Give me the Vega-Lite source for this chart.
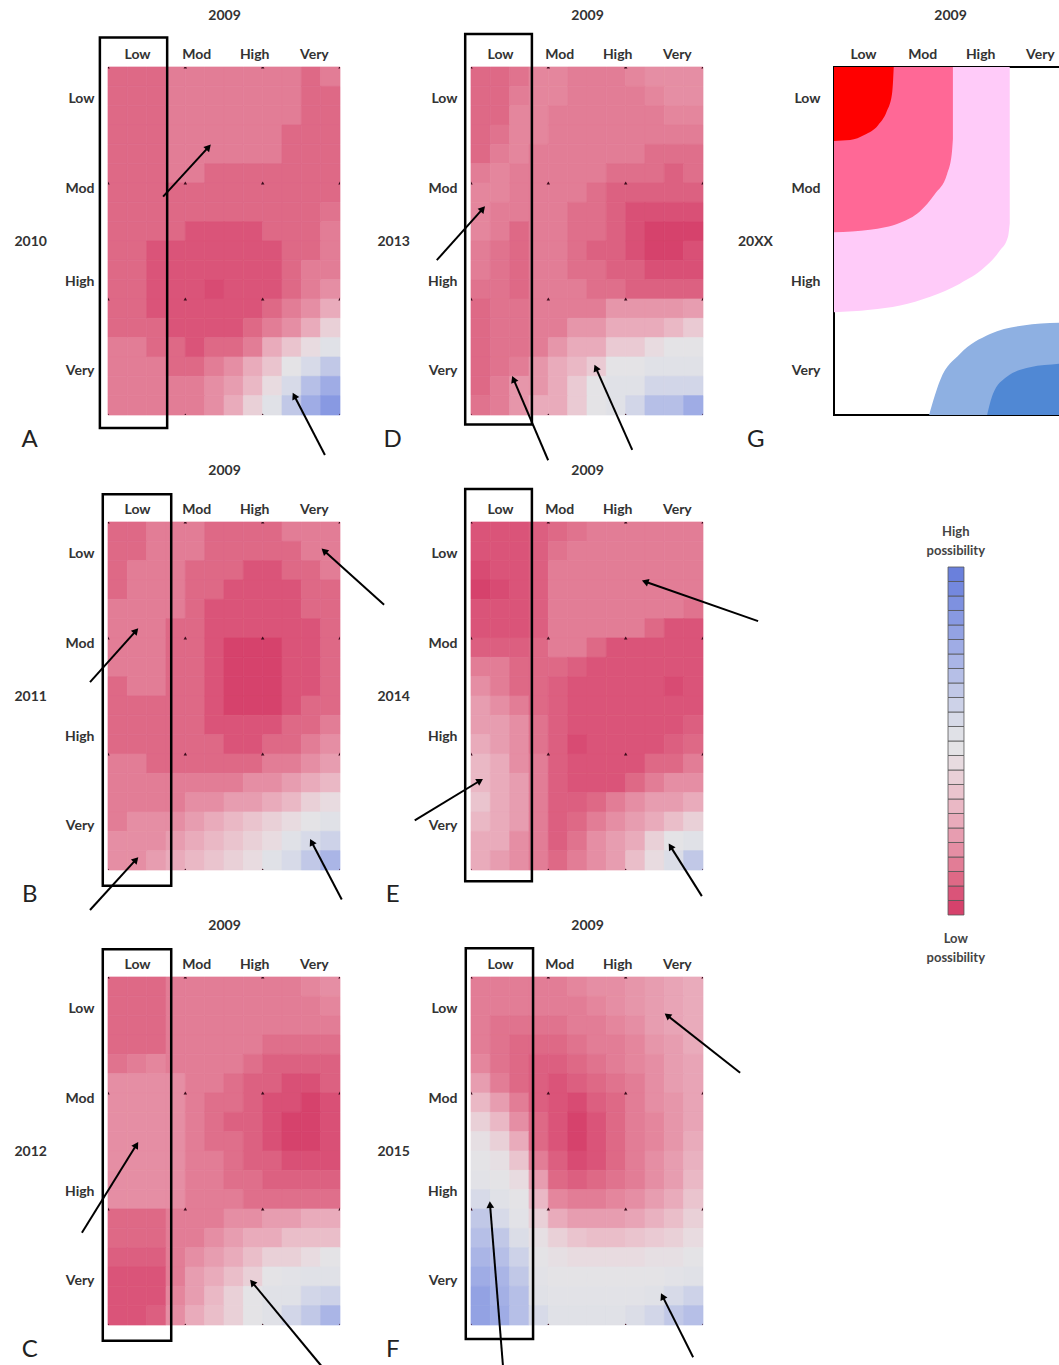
{
"$schema":"https://vega.github.io/schema/vega-lite/v6.json",
"autosize":{"type":"pad"},
"padding":{"left":13,"top":7,"right":0,"bottom":0},
"background":"white",
"config":{
 "font":"Lato",
 "axis":{"labelFont":"Lato","labelFontSize":14,"labelFontWeight":"bold","labelColor":"#333","titleFont":"Lato","titleFontSize":14,"titleFontWeight":"bold","titleColor":"#333","grid":false,"ticks":false,"domain":false,"labelFlush":false,"labelOverlap":false},
 "title":{"font":"Lato","fontSize":14,"fontWeight":"bold","color":"#333"}
},
"datasets":{
 "grid":[
  {"p":"A","r":0,"c00":2,"c01":2,"c02":2,"c03":3,"c04":3,"c05":3,"c06":3,"c07":3,"c08":3,"c09":3,"c10":2,"c11":3},
  {"p":"A","r":1,"c00":2,"c01":2,"c02":2,"c03":3,"c04":3,"c05":3,"c06":3,"c07":3,"c08":3,"c09":3,"c10":2,"c11":2},
  {"p":"A","r":2,"c00":2,"c01":2,"c02":2,"c03":3,"c04":3,"c05":3,"c06":3,"c07":3,"c08":3,"c09":3,"c10":2,"c11":2},
  {"p":"A","r":3,"c00":2,"c01":2,"c02":2,"c03":3,"c04":3,"c05":3,"c06":3,"c07":3,"c08":3,"c09":2,"c10":2,"c11":2},
  {"p":"A","r":4,"c00":2,"c01":2,"c02":2,"c03":3,"c04":3,"c05":3,"c06":3,"c07":3,"c08":3,"c09":2,"c10":2,"c11":2},
  {"p":"A","r":5,"c00":2,"c01":2,"c02":2,"c03":3,"c04":3,"c05":2,"c06":2,"c07":2,"c08":2,"c09":2,"c10":2,"c11":2},
  {"p":"A","r":6,"c00":2,"c01":2,"c02":2,"c03":2,"c04":2,"c05":2,"c06":2,"c07":2,"c08":2,"c09":2,"c10":2,"c11":2},
  {"p":"A","r":7,"c00":2,"c01":2,"c02":2,"c03":2,"c04":2,"c05":2,"c06":2,"c07":2,"c08":2,"c09":2,"c10":2,"c11":2.5},
  {"p":"A","r":8,"c00":2,"c01":2,"c02":2,"c03":2,"c04":1,"c05":1,"c06":1,"c07":1,"c08":2,"c09":2,"c10":2,"c11":3},
  {"p":"A","r":9,"c00":2,"c01":2,"c02":1,"c03":1,"c04":1,"c05":1,"c06":1,"c07":1,"c08":1,"c09":2,"c10":2,"c11":3},
  {"p":"A","r":10,"c00":2,"c01":2,"c02":1,"c03":1,"c04":1,"c05":1,"c06":1,"c07":1,"c08":1,"c09":2,"c10":3,"c11":3},
  {"p":"A","r":11,"c00":2,"c01":2,"c02":1,"c03":1,"c04":1,"c05":0.5,"c06":1,"c07":1,"c08":1,"c09":2,"c10":3,"c11":4},
  {"p":"A","r":12,"c00":2,"c01":2,"c02":1,"c03":1,"c04":1,"c05":1,"c06":1,"c07":1,"c08":2,"c09":3,"c10":4,"c11":6},
  {"p":"A","r":13,"c00":2,"c01":2,"c02":2,"c03":1,"c04":1,"c05":1,"c06":1,"c07":2,"c08":3,"c09":4,"c10":6,"c11":9},
  {"p":"A","r":14,"c00":3,"c01":3,"c02":2,"c03":2,"c04":1,"c05":2,"c06":2,"c07":3,"c08":6,"c09":8,"c10":10,"c11":12},
  {"p":"A","r":15,"c00":3,"c01":3,"c02":3,"c03":2,"c04":2,"c05":3,"c06":4,"c07":6,"c08":8,"c09":11,"c10":13,"c11":15},
  {"p":"A","r":16,"c00":3,"c01":3,"c02":3,"c03":3,"c04":3,"c05":4,"c06":5,"c07":7,"c08":10,"c09":13,"c10":16,"c11":18},
  {"p":"A","r":17,"c00":3,"c01":3,"c02":3,"c03":3,"c04":3,"c05":4,"c06":6,"c07":9,"c08":12,"c09":15,"c10":18,"c11":20},
  {"p":"B","r":0,"c00":2,"c01":2,"c02":3,"c03":3,"c04":3,"c05":2,"c06":2,"c07":2,"c08":2,"c09":3,"c10":3,"c11":3},
  {"p":"B","r":1,"c00":2,"c01":2,"c02":3,"c03":3,"c04":3,"c05":2,"c06":2,"c07":2,"c08":2,"c09":2,"c10":3,"c11":3},
  {"p":"B","r":2,"c00":2,"c01":3,"c02":3,"c03":3,"c04":2,"c05":2,"c06":2,"c07":1,"c08":1,"c09":2,"c10":2,"c11":3},
  {"p":"B","r":3,"c00":2,"c01":3,"c02":3,"c03":3,"c04":2,"c05":2,"c06":1,"c07":1,"c08":1,"c09":1,"c10":2,"c11":2},
  {"p":"B","r":4,"c00":3,"c01":3,"c02":3,"c03":3,"c04":2,"c05":1,"c06":1,"c07":1,"c08":1,"c09":1,"c10":2,"c11":2},
  {"p":"B","r":5,"c00":3,"c01":3,"c02":3,"c03":2,"c04":2,"c05":1,"c06":1,"c07":1,"c08":1,"c09":1,"c10":1,"c11":2},
  {"p":"B","r":6,"c00":3,"c01":3,"c02":3,"c03":2,"c04":2,"c05":1,"c06":0,"c07":0,"c08":0,"c09":1,"c10":1,"c11":2},
  {"p":"B","r":7,"c00":3,"c01":3,"c02":3,"c03":2,"c04":2,"c05":1,"c06":0,"c07":0,"c08":0,"c09":1,"c10":1,"c11":2},
  {"p":"B","r":8,"c00":2,"c01":3,"c02":3,"c03":2,"c04":2,"c05":1,"c06":0,"c07":0,"c08":0,"c09":1,"c10":1,"c11":2},
  {"p":"B","r":9,"c00":2,"c01":2,"c02":2,"c03":2,"c04":2,"c05":1,"c06":0,"c07":0,"c08":0,"c09":1,"c10":2,"c11":2},
  {"p":"B","r":10,"c00":2,"c01":2,"c02":2,"c03":2,"c04":2,"c05":1,"c06":1,"c07":1,"c08":1,"c09":2,"c10":2,"c11":3},
  {"p":"B","r":11,"c00":2,"c01":2,"c02":2,"c03":2,"c04":2,"c05":2,"c06":1,"c07":1,"c08":2,"c09":2,"c10":3,"c11":4},
  {"p":"B","r":12,"c00":3,"c01":3,"c02":2,"c03":2,"c04":2,"c05":2,"c06":2,"c07":2,"c08":3,"c09":3,"c10":4,"c11":5},
  {"p":"B","r":13,"c00":3,"c01":3,"c02":3,"c03":3,"c04":3,"c05":3,"c06":3,"c07":4,"c08":4,"c09":5,"c10":6,"c11":7},
  {"p":"B","r":14,"c00":3,"c01":3,"c02":3,"c03":3,"c04":4,"c05":4,"c06":5,"c07":5,"c08":6,"c09":7,"c10":9,"c11":10},
  {"p":"B","r":15,"c00":3,"c01":4,"c02":4,"c03":4,"c04":5,"c05":6,"c06":7,"c07":8,"c08":9,"c09":10,"c10":11,"c11":12},
  {"p":"B","r":16,"c00":4,"c01":4,"c02":4,"c03":5,"c04":6,"c05":7,"c06":8,"c07":9,"c08":10,"c09":12,"c10":13,"c11":14},
  {"p":"B","r":17,"c00":4,"c01":4,"c02":5,"c03":6,"c04":7,"c05":8,"c06":9,"c07":10,"c08":12,"c09":13,"c10":15,"c11":17},
  {"p":"C","r":0,"c00":2,"c01":2,"c02":2,"c03":3,"c04":3,"c05":3,"c06":3,"c07":3,"c08":3,"c09":3,"c10":3.5,"c11":4},
  {"p":"C","r":1,"c00":2,"c01":2,"c02":2,"c03":3,"c04":3,"c05":3,"c06":3,"c07":3,"c08":3,"c09":3,"c10":3,"c11":3.5},
  {"p":"C","r":2,"c00":2,"c01":2,"c02":2,"c03":3,"c04":3,"c05":3,"c06":3,"c07":3,"c08":3,"c09":3,"c10":3,"c11":3},
  {"p":"C","r":3,"c00":2,"c01":2,"c02":2,"c03":3,"c04":3,"c05":3,"c06":3,"c07":3,"c08":2.3,"c09":2.3,"c10":2.3,"c11":2.3},
  {"p":"C","r":4,"c00":2.5,"c01":3,"c02":3.5,"c03":3,"c04":3,"c05":3,"c06":3,"c07":2.3,"c08":1.6,"c09":1.6,"c10":1.6,"c11":1.6},
  {"p":"C","r":5,"c00":4,"c01":4,"c02":4,"c03":4,"c04":3,"c05":3,"c06":2.3,"c07":1.6,"c08":1.6,"c09":0.8,"c10":0.8,"c11":1.6},
  {"p":"C","r":6,"c00":4,"c01":4,"c02":4,"c03":4,"c04":3,"c05":2.3,"c06":2.3,"c07":1.6,"c08":0.8,"c09":0.8,"c10":0,"c11":0.8},
  {"p":"C","r":7,"c00":4,"c01":4,"c02":4,"c03":4,"c04":3,"c05":2.3,"c06":1.6,"c07":1.6,"c08":0.8,"c09":0,"c10":0,"c11":0.8},
  {"p":"C","r":8,"c00":4,"c01":4,"c02":4,"c03":4,"c04":3,"c05":2.3,"c06":2.3,"c07":1.6,"c08":0.8,"c09":0,"c10":0,"c11":0.8},
  {"p":"C","r":9,"c00":4,"c01":4,"c02":4,"c03":4,"c04":3,"c05":3,"c06":2.3,"c07":1.6,"c08":1.6,"c09":0.8,"c10":0.8,"c11":0.8},
  {"p":"C","r":10,"c00":4,"c01":4,"c02":4,"c03":4,"c04":3,"c05":3,"c06":2.3,"c07":2.3,"c08":1.6,"c09":1.6,"c10":1.6,"c11":1.6},
  {"p":"C","r":11,"c00":4,"c01":4,"c02":4,"c03":4,"c04":3,"c05":3,"c06":3,"c07":2.3,"c08":2.3,"c09":2.3,"c10":2.3,"c11":2.3},
  {"p":"C","r":12,"c00":2,"c01":2,"c02":2,"c03":3,"c04":3,"c05":3,"c06":4,"c07":4,"c08":5,"c09":5,"c10":6,"c11":6},
  {"p":"C","r":13,"c00":2,"c01":2,"c02":2,"c03":3,"c04":3,"c05":4,"c06":5,"c07":6,"c08":6,"c09":7.5,"c10":7.5,"c11":7.5},
  {"p":"C","r":14,"c00":1.5,"c01":1.5,"c02":1.5,"c03":3,"c04":4,"c05":5,"c06":6,"c07":7.5,"c08":9,"c09":9,"c10":10,"c11":11},
  {"p":"C","r":15,"c00":1,"c01":1,"c02":1,"c03":3,"c04":5,"c05":6,"c06":7.5,"c07":9,"c08":11,"c09":11.5,"c10":12,"c11":12},
  {"p":"C","r":16,"c00":1,"c01":1,"c02":1,"c03":3.5,"c04":5,"c05":7,"c06":9,"c07":11,"c08":12,"c09":12,"c10":13.5,"c11":14},
  {"p":"C","r":17,"c00":1,"c01":1,"c02":1.5,"c03":4,"c04":6,"c05":7.5,"c06":9,"c07":11,"c08":12,"c09":13.5,"c10":15,"c11":17},
  {"p":"D","r":0,"c00":2,"c01":2,"c02":2.5,"c03":3.5,"c04":3.5,"c05":3,"c06":3,"c07":3,"c08":3.5,"c09":4,"c10":4,"c11":4},
  {"p":"D","r":1,"c00":2,"c01":2,"c02":3,"c03":3.5,"c04":3.5,"c05":3,"c06":3,"c07":3,"c08":3,"c09":3.5,"c10":4,"c11":4},
  {"p":"D","r":2,"c00":2,"c01":2,"c02":3.5,"c03":3.5,"c04":3,"c05":3,"c06":3,"c07":3,"c08":3,"c09":3,"c10":3.5,"c11":3.5},
  {"p":"D","r":3,"c00":2,"c01":2.5,"c02":3.5,"c03":3.5,"c04":3,"c05":3,"c06":3,"c07":3,"c08":3,"c09":3,"c10":3,"c11":3},
  {"p":"D","r":4,"c00":2,"c01":3,"c02":3.5,"c03":3,"c04":3,"c05":3,"c06":3,"c07":3,"c08":3,"c09":2.3,"c10":2.3,"c11":2.3},
  {"p":"D","r":5,"c00":3,"c01":3.5,"c02":3,"c03":3,"c04":3,"c05":3,"c06":3,"c07":2.3,"c08":2.3,"c09":2.3,"c10":1.6,"c11":2.3},
  {"p":"D","r":6,"c00":3.5,"c01":3.5,"c02":3,"c03":3,"c04":3,"c05":3,"c06":2.3,"c07":1.6,"c08":1.6,"c09":1.6,"c10":1.6,"c11":1.6},
  {"p":"D","r":7,"c00":3.5,"c01":3,"c02":3,"c03":3,"c04":3,"c05":2.3,"c06":2.3,"c07":1.6,"c08":0.8,"c09":0.8,"c10":0.8,"c11":0.8},
  {"p":"D","r":8,"c00":3.5,"c01":3,"c02":2,"c03":3,"c04":3,"c05":2.3,"c06":2.3,"c07":1.6,"c08":0.8,"c09":0,"c10":0,"c11":0},
  {"p":"D","r":9,"c00":3,"c01":2.5,"c02":2,"c03":3,"c04":3,"c05":2.3,"c06":1.6,"c07":1.6,"c08":0.8,"c09":0,"c10":0,"c11":0.8},
  {"p":"D","r":10,"c00":3,"c01":2.5,"c02":2,"c03":3,"c04":3,"c05":2.3,"c06":2.3,"c07":1.6,"c08":1.6,"c09":0.8,"c10":0.8,"c11":0.8},
  {"p":"D","r":11,"c00":2.5,"c01":2.5,"c02":2,"c03":3,"c04":3,"c05":3,"c06":2.3,"c07":2.3,"c08":1.6,"c09":1.6,"c10":1.6,"c11":1.6},
  {"p":"D","r":12,"c00":2,"c01":2.5,"c02":2.5,"c03":3,"c04":3,"c05":3,"c06":3,"c07":4.5,"c08":4.5,"c09":4.5,"c10":4.5,"c11":5},
  {"p":"D","r":13,"c00":2,"c01":2.5,"c02":2.5,"c03":3,"c04":3,"c05":4.5,"c06":4.5,"c07":6,"c08":6,"c09":6,"c10":7,"c11":8.5},
  {"p":"D","r":14,"c00":2,"c01":2.5,"c02":2.5,"c03":3,"c04":4.5,"c05":6,"c06":6,"c07":8.5,"c08":8.5,"c09":10,"c10":11,"c11":11},
  {"p":"D","r":15,"c00":2,"c01":2.5,"c02":3,"c03":4.5,"c04":6,"c05":7,"c06":8.5,"c07":11,"c08":11,"c09":12,"c10":12,"c11":12},
  {"p":"D","r":16,"c00":2,"c01":3,"c02":4.5,"c03":4.5,"c04":6,"c05":8.5,"c06":11,"c07":12,"c08":12,"c09":13.5,"c10":13.5,"c11":13.5},
  {"p":"D","r":17,"c00":2.5,"c01":3,"c02":4.5,"c03":6,"c04":6,"c05":8.5,"c06":11,"c07":12,"c08":13.5,"c09":16,"c10":16,"c11":18},
  {"p":"E","r":0,"c00":1,"c01":1,"c02":1,"c03":1.5,"c04":2,"c05":2.5,"c06":3,"c07":3,"c08":3,"c09":3,"c10":3,"c11":3},
  {"p":"E","r":1,"c00":1,"c01":1,"c02":1,"c03":1.5,"c04":2.5,"c05":3,"c06":3,"c07":3,"c08":3,"c09":3,"c10":3,"c11":3},
  {"p":"E","r":2,"c00":0.5,"c01":1,"c02":1,"c03":1.5,"c04":3,"c05":3,"c06":3,"c07":3,"c08":3,"c09":3,"c10":3,"c11":3},
  {"p":"E","r":3,"c00":0,"c01":0.5,"c02":1,"c03":1.5,"c04":3,"c05":3,"c06":3,"c07":3,"c08":3,"c09":3,"c10":3,"c11":3},
  {"p":"E","r":4,"c00":1,"c01":1,"c02":1,"c03":1.5,"c04":3,"c05":3,"c06":3,"c07":3,"c08":3,"c09":3,"c10":3,"c11":2.5},
  {"p":"E","r":5,"c00":1,"c01":1,"c02":1,"c03":1.5,"c04":3,"c05":3,"c06":3,"c07":3,"c08":3,"c09":2,"c10":1,"c11":1},
  {"p":"E","r":6,"c00":1.5,"c01":1.5,"c02":1.5,"c03":2,"c04":3,"c05":3,"c06":2,"c07":1,"c08":1,"c09":1,"c10":1,"c11":1},
  {"p":"E","r":7,"c00":3,"c01":3,"c02":2,"c03":2,"c04":2,"c05":1.5,"c06":1,"c07":1,"c08":1,"c09":1,"c10":1,"c11":1},
  {"p":"E","r":8,"c00":4,"c01":3,"c02":2,"c03":2,"c04":1.5,"c05":1,"c06":1,"c07":1,"c08":1,"c09":1,"c10":0.5,"c11":1},
  {"p":"E","r":9,"c00":5,"c01":4,"c02":3,"c03":2,"c04":1.5,"c05":1,"c06":1,"c07":1,"c08":1,"c09":1,"c10":1,"c11":1},
  {"p":"E","r":10,"c00":5,"c01":5,"c02":4,"c03":2.5,"c04":1.5,"c05":1,"c06":1,"c07":1,"c08":1,"c09":1,"c10":1,"c11":1.5},
  {"p":"E","r":11,"c00":6,"c01":5,"c02":4,"c03":2.5,"c04":1.5,"c05":0.5,"c06":1,"c07":1,"c08":1,"c09":1,"c10":1.5,"c11":2},
  {"p":"E","r":12,"c00":7,"c01":6,"c02":4,"c03":3,"c04":1.5,"c05":1,"c06":1,"c07":1,"c08":1,"c09":2,"c10":2,"c11":3},
  {"p":"E","r":13,"c00":7,"c01":6,"c02":5,"c03":3,"c04":1.5,"c05":1,"c06":1,"c07":1,"c08":2,"c09":3,"c10":4,"c11":4},
  {"p":"E","r":14,"c00":8,"c01":6,"c02":5,"c03":3,"c04":1.5,"c05":1.5,"c06":2,"c07":3,"c08":4,"c09":5,"c10":5,"c11":6},
  {"p":"E","r":15,"c00":7,"c01":6,"c02":5,"c03":3,"c04":1.5,"c05":2,"c06":3,"c07":4,"c08":5,"c09":6,"c10":7.5,"c11":9},
  {"p":"E","r":16,"c00":6,"c01":6,"c02":4,"c03":3,"c04":1.5,"c05":2.5,"c06":4,"c07":5,"c08":6,"c09":9,"c10":11,"c11":12},
  {"p":"E","r":17,"c00":6,"c01":5,"c02":4,"c03":3,"c04":2,"c05":3,"c06":4,"c07":5,"c08":7.5,"c09":10,"c10":12.5,"c11":15},
  {"p":"F","r":0,"c00":3,"c01":3,"c02":3,"c03":3,"c04":3,"c05":3.5,"c06":4,"c07":4,"c08":4.5,"c09":5,"c10":5.5,"c11":6},
  {"p":"F","r":1,"c00":3,"c01":3,"c02":3,"c03":3,"c04":3,"c05":3,"c06":3.5,"c07":4,"c08":4.5,"c09":5,"c10":5.5,"c11":6},
  {"p":"F","r":2,"c00":3,"c01":2.5,"c02":2.5,"c03":2.5,"c04":2.5,"c05":3,"c06":3,"c07":3.5,"c08":4,"c09":5,"c10":5.5,"c11":6},
  {"p":"F","r":3,"c00":3,"c01":2.5,"c02":2,"c03":2,"c04":2,"c05":2.5,"c06":3,"c07":3,"c08":3.5,"c09":4.5,"c10":5,"c11":6},
  {"p":"F","r":4,"c00":3.5,"c01":2.5,"c02":2,"c03":1.5,"c04":1.5,"c05":2,"c06":2.5,"c07":3,"c08":3.5,"c09":4,"c10":5,"c11":5.5},
  {"p":"F","r":5,"c00":5,"c01":3,"c02":2,"c03":1.5,"c04":1,"c05":1.5,"c06":2,"c07":2.5,"c08":3,"c09":4,"c10":5,"c11":5.5},
  {"p":"F","r":6,"c00":7,"c01":5,"c02":3,"c03":1.5,"c04":1,"c05":0.5,"c06":1.5,"c07":2,"c08":3,"c09":4,"c10":4.5,"c11":5.5},
  {"p":"F","r":7,"c00":9,"c01":7,"c02":4,"c03":2,"c04":1,"c05":0,"c06":1,"c07":2,"c08":3,"c09":3.5,"c10":4.5,"c11":5.5},
  {"p":"F","r":8,"c00":10.5,"c01":9,"c02":6,"c03":2,"c04":1,"c05":0,"c06":1,"c07":2,"c08":3,"c09":3.5,"c10":4.5,"c11":6},
  {"p":"F","r":9,"c00":11,"c01":10.5,"c02":8,"c03":3,"c04":1.5,"c05":0.5,"c06":1,"c07":2,"c08":3,"c09":4,"c10":5,"c11":6.5},
  {"p":"F","r":10,"c00":11.5,"c01":11,"c02":10,"c03":5,"c04":2,"c05":1.5,"c06":2,"c07":2.5,"c08":3,"c09":4,"c10":5,"c11":7},
  {"p":"F","r":11,"c00":13,"c01":12,"c02":11,"c03":7,"c04":3.5,"c05":3,"c06":3,"c07":3.5,"c08":4,"c09":5,"c10":6,"c11":8},
  {"p":"F","r":12,"c00":15,"c01":13,"c02":11.5,"c03":9,"c04":6,"c05":5,"c06":5,"c07":5,"c08":5.5,"c09":6.5,"c10":7.5,"c11":9},
  {"p":"F","r":13,"c00":16,"c01":15,"c02":12.5,"c03":10.5,"c04":9,"c05":8,"c06":7.5,"c07":7.5,"c08":8,"c09":8.5,"c10":9,"c11":10},
  {"p":"F","r":14,"c00":17,"c01":16,"c02":14,"c03":11,"c04":10.5,"c05":10,"c06":10,"c07":10,"c08":10,"c09":10.5,"c10":10.5,"c11":11},
  {"p":"F","r":15,"c00":18,"c01":17,"c02":15,"c03":11.5,"c04":11,"c05":11,"c06":11,"c07":11,"c08":11,"c09":11,"c10":11.5,"c11":12},
  {"p":"F","r":16,"c00":19,"c01":17.5,"c02":16,"c03":12,"c04":11.5,"c05":11.5,"c06":11.5,"c07":11.5,"c08":11.5,"c09":12,"c10":13,"c11":14},
  {"p":"F","r":17,"c00":19,"c01":18,"c02":16,"c03":13,"c04":12,"c05":12,"c06":12,"c07":12,"c08":12.5,"c09":13.5,"c10":15,"c11":16}
 ],
 "pts":[
  {"gx":0,"gy":0},{"gx":1.333,"gy":0},{"gx":2.667,"gy":0},{"gx":4,"gy":0},
  {"gx":0,"gy":1.333},{"gx":1.333,"gy":1.333},{"gx":2.667,"gy":1.333},{"gx":4,"gy":1.333},
  {"gx":0,"gy":2.667},{"gx":1.333,"gy":2.667},{"gx":2.667,"gy":2.667},{"gx":4,"gy":2.667},
  {"gx":0,"gy":4},{"gx":1.333,"gy":4},{"gx":2.667,"gy":4},{"gx":4,"gy":4}
 ],
 "boxes":[
  {"p":"A","x":-0.14,"x2":1.02,"y":-0.34,"y2":4.15},
  {"p":"B","x":-0.09,"x2":1.09,"y":-0.32,"y2":4.18},
  {"p":"C","x":-0.09,"x2":1.09,"y":-0.32,"y2":4.18},
  {"p":"D","x":-0.1,"x2":1.05,"y":-0.38,"y2":4.11},
  {"p":"E","x":-0.1,"x2":1.05,"y":-0.38,"y2":4.13},
  {"p":"F","x":-0.09,"x2":1.07,"y":-0.33,"y2":4.16}
 ],
 "arrows":[
  {"p":"A","x":0.95,"y":1.49,"x2":1.72,"y2":0.93},
  {"p":"A","x":3.74,"y":4.46,"x2":3.22,"y2":3.79},
  {"p":"B","x":-0.31,"y":1.84,"x2":0.47,"y2":1.26},
  {"p":"B","x":-0.31,"y":4.46,"x2":0.47,"y2":3.89},
  {"p":"B","x":4.76,"y":0.95,"x2":3.74,"y2":0.34},
  {"p":"B","x":4.03,"y":4.34,"x2":3.52,"y2":3.69},
  {"p":"C","x":-0.45,"y":2.94,"x2":0.48,"y2":1.94},
  {"p":"C","x":3.74,"y":4.52,"x2":2.5,"y2":3.52},
  {"p":"D","x":-0.59,"y":2.22,"x2":0.19,"y2":1.64},
  {"p":"D","x":1.33,"y":4.52,"x2":0.74,"y2":3.6},
  {"p":"D","x":2.78,"y":4.4,"x2":2.16,"y2":3.47},
  {"p":"E","x":4.95,"y":1.14,"x2":3.02,"y2":0.69},
  {"p":"E","x":-0.97,"y":3.43,"x2":0.14,"y2":2.98},
  {"p":"E","x":3.98,"y":4.3,"x2":3.45,"y2":3.74},
  {"p":"F","x":4.64,"y":1.1,"x2":3.4,"y2":0.45},
  {"p":"F","x":0.55,"y":4.46,"x2":0.33,"y2":2.63},
  {"p":"F","x":3.83,"y":4.37,"x2":3.31,"y2":3.68}
 ],
 "gshape":[
  {"s":"lp","x":0,"y":2.82},{"s":"lp","x":0.62,"y":2.79},{"s":"lp","x":1.14,"y":2.74},{"s":"lp","x":1.66,"y":2.64},{"s":"lp","x":2.17,"y":2.49},{"s":"lp","x":2.6,"y":2.3},{"s":"lp","x":2.86,"y":2.11},{"s":"lp","x":3.0,"y":1.95},{"s":"lp","x":3.03,"y":1.8},
  {"s":"pk","x":0,"y":1.9},{"s":"pk","x":0.62,"y":1.87},{"s":"pk","x":1.14,"y":1.79},{"s":"pk","x":1.48,"y":1.66},{"s":"pk","x":1.74,"y":1.46},{"s":"pk","x":1.95,"y":1.23},{"s":"pk","x":2.03,"y":1.0},{"s":"pk","x":2.05,"y":0.83},
  {"s":"rd","x":0,"y":0.85},{"s":"rd","x":0.28,"y":0.84},{"s":"rd","x":0.53,"y":0.78},{"s":"rd","x":0.76,"y":0.67},{"s":"rd","x":0.91,"y":0.51},{"s":"rd","x":1.0,"y":0.31},{"s":"rd","x":1.02,"y":0.14},{"s":"rd","x":1.03,"y":0.0},
  {"s":"lb","x":1.64,"y":4.0},{"s":"lb","x":1.83,"y":3.6},{"s":"lb","x":2.17,"y":3.3},{"s":"lb","x":2.69,"y":3.07},{"s":"lb","x":3.26,"y":2.97},{"s":"lb","x":3.88,"y":2.94},{"s":"lb","x":4.0,"y":2.94},
  {"s":"db","x":2.64,"y":4.0},{"s":"db","x":2.74,"y":3.76},{"s":"db","x":2.98,"y":3.56},{"s":"db","x":3.38,"y":3.45},{"s":"db","x":3.88,"y":3.41},{"s":"db","x":4.0,"y":3.4}
 ],
 "legend":[
  {"lo":0,"hi":1},{"lo":1,"hi":2},{"lo":2,"hi":3},{"lo":3,"hi":4},{"lo":4,"hi":5},{"lo":5,"hi":6},{"lo":6,"hi":7},{"lo":7,"hi":8},{"lo":8,"hi":9},{"lo":9,"hi":10},{"lo":10,"hi":11},{"lo":11,"hi":12},{"lo":12,"hi":13},{"lo":13,"hi":14},{"lo":14,"hi":15},{"lo":15,"hi":16},{"lo":16,"hi":17},{"lo":17,"hi":18},{"lo":18,"hi":19},{"lo":19,"hi":20},{"lo":20,"hi":21},{"lo":21,"hi":22},{"lo":22,"hi":23},{"lo":23,"hi":24}
 ]
},
"columns":3,
"spacing":{"row":107,"column":131},
"bounds":"flush",
"concat":[
   {"width":232,"height":348,"view":{"stroke":null},"resolve":{"scale":{"x":"independent","y":"independent"}},
    "layer":[
     {"data":{"name":"grid"},"transform":[{"filter":"datum.p=='A'"},{"fold":["c00","c01","c02","c03","c04","c05","c06","c07","c08","c09","c10","c11"],"as":["col","v"]}],"mark":{"type":"rect","strokeWidth":0.7},
      "encoding":{"x":{"field":"col","type":"nominal","axis":null,"scale":{"paddingInner":0,"paddingOuter":0}},"y":{"field":"r","type":"ordinal","axis":null,"scale":{"paddingInner":0,"paddingOuter":0}},
       "color":{"field":"v","type":"quantitative","legend":null,"scale":{"type":"linear","domain":[0,1,2,3,4,5,6,8,10,11,12,14,17,20,23],"range":["#d6426c","#da5479","#de6986","#e27d96","#e58ea4","#e79db0","#e9abbb","#eac4ce","#e8dbe0","#e4e3e6","#e0e1e7","#cdd2e8","#aab5e6","#8899e2","#6a80dc"],"interpolate":"rgb"}},
       "stroke":{"field":"v","type":"quantitative","legend":null,"scale":{"type":"linear","domain":[0,1,2,3,4,5,6,8,10,11,12,14,17,20,23],"range":["#d6426c","#da5479","#de6986","#e27d96","#e58ea4","#e79db0","#e9abbb","#eac4ce","#e8dbe0","#e4e3e6","#e0e1e7","#cdd2e8","#aab5e6","#8899e2","#6a80dc"],"interpolate":"rgb"}}}},
     {"data":{"name":"pts"},"mark":{"type":"point","shape":"triangle-up","filled":true,"size":12,"color":"#3b0b1b","opacity":1,"clip":true},
      "encoding":{"x":{"field":"gx","type":"quantitative","scale":{"domain":[0,4],"nice":false,"zero":false},"axis":{"orient":"top","values":[0.5,1.52,2.52,3.55],"labelExpr":"datum.value < 1 ? 'Low' : datum.value < 2 ? 'Mod' : datum.value < 3 ? 'High' : 'Very'","title":"2009","labelPadding":6,"titlePadding":25,"labelAngle":0}},
       "y":{"field":"gy","type":"quantitative","scale":{"domain":[0,4],"nice":false,"zero":false,"reverse":true},"axis":{"orient":"left","values":[0.36,1.4,2.46,3.49],"labelExpr":"datum.value < 1 ? 'Low' : datum.value < 2 ? 'Mod' : datum.value < 3 ? 'High' : 'Very'","title":"2010","titleAngle":0,"titleAlign":"right","titleBaseline":"middle","labelPadding":14,"titlePadding":18}}}},
     {"data":{"name":"boxes"},"transform":[{"filter":"datum.p=='A'"}],"mark":{"type":"rect","fillOpacity":0,"stroke":"black","strokeWidth":2.5},
      "encoding":{"x":{"field":"x","type":"quantitative","scale":{"domain":[0,4],"nice":false,"zero":false},"axis":null},"x2":{"field":"x2"},"y":{"field":"y","type":"quantitative","scale":{"domain":[0,4],"nice":false,"zero":false,"reverse":true},"axis":null},"y2":{"field":"y2"}}},
     {"data":{"name":"arrows"},"transform":[{"filter":"datum.p=='A'"}],"mark":{"type":"rule","color":"black","strokeWidth":2},
      "encoding":{"x":{"field":"x","type":"quantitative","scale":{"domain":[0,4],"nice":false,"zero":false},"axis":null},"x2":{"field":"x2"},"y":{"field":"y","type":"quantitative","scale":{"domain":[0,4],"nice":false,"zero":false,"reverse":true},"axis":null},"y2":{"field":"y2"}}},
     {"data":{"name":"arrows"},"transform":[{"filter":"datum.p=='A'"},{"calculate":"atan2((datum.x2-datum.x)*58,(datum.y-datum.y2)*87)*180/PI","as":"ang"}],"mark":{"type":"point","shape":"triangle","filled":true,"size":60,"color":"black","opacity":1},
      "encoding":{"x":{"field":"x2","type":"quantitative","scale":{"domain":[0,4],"nice":false,"zero":false},"axis":null},"y":{"field":"y2","type":"quantitative","scale":{"domain":[0,4],"nice":false,"zero":false,"reverse":true},"axis":null},"angle":{"field":"ang","type":"quantitative","scale":null}}},
     {"data":{"values":[{}]},"mark":{"type":"text","fontSize":24,"font":"Lato","color":"#222"},
      "encoding":{"x":{"datum":-1.35,"type":"quantitative","scale":{"domain":[0,4],"nice":false,"zero":false},"axis":null},"y":{"datum":4.29,"type":"quantitative","scale":{"domain":[0,4],"nice":false,"zero":false,"reverse":true},"axis":null},"text":{"value":"A"}}}
    ]},
   {"width":232,"height":348,"view":{"stroke":null},"resolve":{"scale":{"x":"independent","y":"independent"}},
    "layer":[
     {"data":{"name":"grid"},"transform":[{"filter":"datum.p=='D'"},{"fold":["c00","c01","c02","c03","c04","c05","c06","c07","c08","c09","c10","c11"],"as":["col","v"]}],"mark":{"type":"rect","strokeWidth":0.7},
      "encoding":{"x":{"field":"col","type":"nominal","axis":null,"scale":{"paddingInner":0,"paddingOuter":0}},"y":{"field":"r","type":"ordinal","axis":null,"scale":{"paddingInner":0,"paddingOuter":0}},
       "color":{"field":"v","type":"quantitative","legend":null,"scale":{"type":"linear","domain":[0,1,2,3,4,5,6,8,10,11,12,14,17,20,23],"range":["#d6426c","#da5479","#de6986","#e27d96","#e58ea4","#e79db0","#e9abbb","#eac4ce","#e8dbe0","#e4e3e6","#e0e1e7","#cdd2e8","#aab5e6","#8899e2","#6a80dc"],"interpolate":"rgb"}},
       "stroke":{"field":"v","type":"quantitative","legend":null,"scale":{"type":"linear","domain":[0,1,2,3,4,5,6,8,10,11,12,14,17,20,23],"range":["#d6426c","#da5479","#de6986","#e27d96","#e58ea4","#e79db0","#e9abbb","#eac4ce","#e8dbe0","#e4e3e6","#e0e1e7","#cdd2e8","#aab5e6","#8899e2","#6a80dc"],"interpolate":"rgb"}}}},
     {"data":{"name":"pts"},"mark":{"type":"point","shape":"triangle-up","filled":true,"size":12,"color":"#3b0b1b","opacity":1,"clip":true},
      "encoding":{"x":{"field":"gx","type":"quantitative","scale":{"domain":[0,4],"nice":false,"zero":false},"axis":{"orient":"top","values":[0.5,1.52,2.52,3.55],"labelExpr":"datum.value < 1 ? 'Low' : datum.value < 2 ? 'Mod' : datum.value < 3 ? 'High' : 'Very'","title":"2009","labelPadding":6,"titlePadding":25,"labelAngle":0}},
       "y":{"field":"gy","type":"quantitative","scale":{"domain":[0,4],"nice":false,"zero":false,"reverse":true},"axis":{"orient":"left","values":[0.36,1.4,2.46,3.49],"labelExpr":"datum.value < 1 ? 'Low' : datum.value < 2 ? 'Mod' : datum.value < 3 ? 'High' : 'Very'","title":"2013","titleAngle":0,"titleAlign":"right","titleBaseline":"middle","labelPadding":14,"titlePadding":18}}}},
     {"data":{"name":"boxes"},"transform":[{"filter":"datum.p=='D'"}],"mark":{"type":"rect","fillOpacity":0,"stroke":"black","strokeWidth":2.5},
      "encoding":{"x":{"field":"x","type":"quantitative","scale":{"domain":[0,4],"nice":false,"zero":false},"axis":null},"x2":{"field":"x2"},"y":{"field":"y","type":"quantitative","scale":{"domain":[0,4],"nice":false,"zero":false,"reverse":true},"axis":null},"y2":{"field":"y2"}}},
     {"data":{"name":"arrows"},"transform":[{"filter":"datum.p=='D'"}],"mark":{"type":"rule","color":"black","strokeWidth":2},
      "encoding":{"x":{"field":"x","type":"quantitative","scale":{"domain":[0,4],"nice":false,"zero":false},"axis":null},"x2":{"field":"x2"},"y":{"field":"y","type":"quantitative","scale":{"domain":[0,4],"nice":false,"zero":false,"reverse":true},"axis":null},"y2":{"field":"y2"}}},
     {"data":{"name":"arrows"},"transform":[{"filter":"datum.p=='D'"},{"calculate":"atan2((datum.x2-datum.x)*58,(datum.y-datum.y2)*87)*180/PI","as":"ang"}],"mark":{"type":"point","shape":"triangle","filled":true,"size":60,"color":"black","opacity":1},
      "encoding":{"x":{"field":"x2","type":"quantitative","scale":{"domain":[0,4],"nice":false,"zero":false},"axis":null},"y":{"field":"y2","type":"quantitative","scale":{"domain":[0,4],"nice":false,"zero":false,"reverse":true},"axis":null},"angle":{"field":"ang","type":"quantitative","scale":null}}},
     {"data":{"values":[{}]},"mark":{"type":"text","fontSize":24,"font":"Lato","color":"#222"},
      "encoding":{"x":{"datum":-1.35,"type":"quantitative","scale":{"domain":[0,4],"nice":false,"zero":false},"axis":null},"y":{"datum":4.29,"type":"quantitative","scale":{"domain":[0,4],"nice":false,"zero":false,"reverse":true},"axis":null},"text":{"value":"D"}}}
    ]},
  {"width":232,"height":348,"view":{"stroke":"black","strokeWidth":2},
   "layer":[
    {"data":{"name":"gshape"},"transform":[{"filter":"datum.s=='lp'"}],"mark":{"type":"area","color":"#ffcbf9","interpolate":"monotone","opacity":1},
     "encoding":{"x":{"field":"x","type":"quantitative","scale":{"domain":[0,4],"nice":false,"zero":false},"axis":{"orient":"top","values":[0.5,1.52,2.52,3.55],"labelExpr":"datum.value < 1 ? 'Low' : datum.value < 2 ? 'Mod' : datum.value < 3 ? 'High' : 'Very'","title":"2009","labelPadding":6,"titlePadding":25,"labelAngle":0}},
      "y":{"field":"y","type":"quantitative","scale":{"domain":[0,4],"nice":false,"zero":false,"reverse":true},"axis":{"orient":"left","values":[0.36,1.4,2.46,3.49],"labelExpr":"datum.value < 1 ? 'Low' : datum.value < 2 ? 'Mod' : datum.value < 3 ? 'High' : 'Very'","title":"20XX","titleAngle":0,"titleAlign":"right","titleBaseline":"middle","labelPadding":14,"titlePadding":18}},
      "y2":{"datum":0}}},
    {"data":{"name":"gshape"},"transform":[{"filter":"datum.s=='pk'"}],"mark":{"type":"area","color":"#ff6896","interpolate":"monotone","opacity":1},
     "encoding":{"x":{"field":"x","type":"quantitative"},"y":{"field":"y","type":"quantitative"},"y2":{"datum":0}}},
    {"data":{"name":"gshape"},"transform":[{"filter":"datum.s=='rd'"}],"mark":{"type":"area","color":"#ff0000","interpolate":"monotone","opacity":1},
     "encoding":{"x":{"field":"x","type":"quantitative"},"y":{"field":"y","type":"quantitative"},"y2":{"datum":0}}},
    {"data":{"name":"gshape"},"transform":[{"filter":"datum.s=='lb'"}],"mark":{"type":"area","color":"#8eb0e2","interpolate":"monotone","opacity":1},
     "encoding":{"x":{"field":"x","type":"quantitative"},"y":{"field":"y","type":"quantitative"},"y2":{"datum":4}}},
    {"data":{"name":"gshape"},"transform":[{"filter":"datum.s=='db'"}],"mark":{"type":"area","color":"#5088d4","interpolate":"monotone","opacity":1},
     "encoding":{"x":{"field":"x","type":"quantitative"},"y":{"field":"y","type":"quantitative"},"y2":{"datum":4}}},
    {"data":{"values":[{}]},"mark":{"type":"text","fontSize":24,"font":"Lato","color":"#222"},
     "encoding":{"x":{"datum":-1.35,"type":"quantitative"},"y":{"datum":4.29,"type":"quantitative"},"text":{"value":"G"}}}
   ]},
   {"width":232,"height":348,"view":{"stroke":null},"resolve":{"scale":{"x":"independent","y":"independent"}},
    "layer":[
     {"data":{"name":"grid"},"transform":[{"filter":"datum.p=='B'"},{"fold":["c00","c01","c02","c03","c04","c05","c06","c07","c08","c09","c10","c11"],"as":["col","v"]}],"mark":{"type":"rect","strokeWidth":0.7},
      "encoding":{"x":{"field":"col","type":"nominal","axis":null,"scale":{"paddingInner":0,"paddingOuter":0}},"y":{"field":"r","type":"ordinal","axis":null,"scale":{"paddingInner":0,"paddingOuter":0}},
       "color":{"field":"v","type":"quantitative","legend":null,"scale":{"type":"linear","domain":[0,1,2,3,4,5,6,8,10,11,12,14,17,20,23],"range":["#d6426c","#da5479","#de6986","#e27d96","#e58ea4","#e79db0","#e9abbb","#eac4ce","#e8dbe0","#e4e3e6","#e0e1e7","#cdd2e8","#aab5e6","#8899e2","#6a80dc"],"interpolate":"rgb"}},
       "stroke":{"field":"v","type":"quantitative","legend":null,"scale":{"type":"linear","domain":[0,1,2,3,4,5,6,8,10,11,12,14,17,20,23],"range":["#d6426c","#da5479","#de6986","#e27d96","#e58ea4","#e79db0","#e9abbb","#eac4ce","#e8dbe0","#e4e3e6","#e0e1e7","#cdd2e8","#aab5e6","#8899e2","#6a80dc"],"interpolate":"rgb"}}}},
     {"data":{"name":"pts"},"mark":{"type":"point","shape":"triangle-up","filled":true,"size":12,"color":"#3b0b1b","opacity":1,"clip":true},
      "encoding":{"x":{"field":"gx","type":"quantitative","scale":{"domain":[0,4],"nice":false,"zero":false},"axis":{"orient":"top","values":[0.5,1.52,2.52,3.55],"labelExpr":"datum.value < 1 ? 'Low' : datum.value < 2 ? 'Mod' : datum.value < 3 ? 'High' : 'Very'","title":"2009","labelPadding":6,"titlePadding":25,"labelAngle":0}},
       "y":{"field":"gy","type":"quantitative","scale":{"domain":[0,4],"nice":false,"zero":false,"reverse":true},"axis":{"orient":"left","values":[0.36,1.4,2.46,3.49],"labelExpr":"datum.value < 1 ? 'Low' : datum.value < 2 ? 'Mod' : datum.value < 3 ? 'High' : 'Very'","title":"2011","titleAngle":0,"titleAlign":"right","titleBaseline":"middle","labelPadding":14,"titlePadding":18}}}},
     {"data":{"name":"boxes"},"transform":[{"filter":"datum.p=='B'"}],"mark":{"type":"rect","fillOpacity":0,"stroke":"black","strokeWidth":2.5},
      "encoding":{"x":{"field":"x","type":"quantitative","scale":{"domain":[0,4],"nice":false,"zero":false},"axis":null},"x2":{"field":"x2"},"y":{"field":"y","type":"quantitative","scale":{"domain":[0,4],"nice":false,"zero":false,"reverse":true},"axis":null},"y2":{"field":"y2"}}},
     {"data":{"name":"arrows"},"transform":[{"filter":"datum.p=='B'"}],"mark":{"type":"rule","color":"black","strokeWidth":2},
      "encoding":{"x":{"field":"x","type":"quantitative","scale":{"domain":[0,4],"nice":false,"zero":false},"axis":null},"x2":{"field":"x2"},"y":{"field":"y","type":"quantitative","scale":{"domain":[0,4],"nice":false,"zero":false,"reverse":true},"axis":null},"y2":{"field":"y2"}}},
     {"data":{"name":"arrows"},"transform":[{"filter":"datum.p=='B'"},{"calculate":"atan2((datum.x2-datum.x)*58,(datum.y-datum.y2)*87)*180/PI","as":"ang"}],"mark":{"type":"point","shape":"triangle","filled":true,"size":60,"color":"black","opacity":1},
      "encoding":{"x":{"field":"x2","type":"quantitative","scale":{"domain":[0,4],"nice":false,"zero":false},"axis":null},"y":{"field":"y2","type":"quantitative","scale":{"domain":[0,4],"nice":false,"zero":false,"reverse":true},"axis":null},"angle":{"field":"ang","type":"quantitative","scale":null}}},
     {"data":{"values":[{}]},"mark":{"type":"text","fontSize":24,"font":"Lato","color":"#222"},
      "encoding":{"x":{"datum":-1.35,"type":"quantitative","scale":{"domain":[0,4],"nice":false,"zero":false},"axis":null},"y":{"datum":4.29,"type":"quantitative","scale":{"domain":[0,4],"nice":false,"zero":false,"reverse":true},"axis":null},"text":{"value":"B"}}}
    ]},
   {"width":232,"height":348,"view":{"stroke":null},"resolve":{"scale":{"x":"independent","y":"independent"}},
    "layer":[
     {"data":{"name":"grid"},"transform":[{"filter":"datum.p=='E'"},{"fold":["c00","c01","c02","c03","c04","c05","c06","c07","c08","c09","c10","c11"],"as":["col","v"]}],"mark":{"type":"rect","strokeWidth":0.7},
      "encoding":{"x":{"field":"col","type":"nominal","axis":null,"scale":{"paddingInner":0,"paddingOuter":0}},"y":{"field":"r","type":"ordinal","axis":null,"scale":{"paddingInner":0,"paddingOuter":0}},
       "color":{"field":"v","type":"quantitative","legend":null,"scale":{"type":"linear","domain":[0,1,2,3,4,5,6,8,10,11,12,14,17,20,23],"range":["#d6426c","#da5479","#de6986","#e27d96","#e58ea4","#e79db0","#e9abbb","#eac4ce","#e8dbe0","#e4e3e6","#e0e1e7","#cdd2e8","#aab5e6","#8899e2","#6a80dc"],"interpolate":"rgb"}},
       "stroke":{"field":"v","type":"quantitative","legend":null,"scale":{"type":"linear","domain":[0,1,2,3,4,5,6,8,10,11,12,14,17,20,23],"range":["#d6426c","#da5479","#de6986","#e27d96","#e58ea4","#e79db0","#e9abbb","#eac4ce","#e8dbe0","#e4e3e6","#e0e1e7","#cdd2e8","#aab5e6","#8899e2","#6a80dc"],"interpolate":"rgb"}}}},
     {"data":{"name":"pts"},"mark":{"type":"point","shape":"triangle-up","filled":true,"size":12,"color":"#3b0b1b","opacity":1,"clip":true},
      "encoding":{"x":{"field":"gx","type":"quantitative","scale":{"domain":[0,4],"nice":false,"zero":false},"axis":{"orient":"top","values":[0.5,1.52,2.52,3.55],"labelExpr":"datum.value < 1 ? 'Low' : datum.value < 2 ? 'Mod' : datum.value < 3 ? 'High' : 'Very'","title":"2009","labelPadding":6,"titlePadding":25,"labelAngle":0}},
       "y":{"field":"gy","type":"quantitative","scale":{"domain":[0,4],"nice":false,"zero":false,"reverse":true},"axis":{"orient":"left","values":[0.36,1.4,2.46,3.49],"labelExpr":"datum.value < 1 ? 'Low' : datum.value < 2 ? 'Mod' : datum.value < 3 ? 'High' : 'Very'","title":"2014","titleAngle":0,"titleAlign":"right","titleBaseline":"middle","labelPadding":14,"titlePadding":18}}}},
     {"data":{"name":"boxes"},"transform":[{"filter":"datum.p=='E'"}],"mark":{"type":"rect","fillOpacity":0,"stroke":"black","strokeWidth":2.5},
      "encoding":{"x":{"field":"x","type":"quantitative","scale":{"domain":[0,4],"nice":false,"zero":false},"axis":null},"x2":{"field":"x2"},"y":{"field":"y","type":"quantitative","scale":{"domain":[0,4],"nice":false,"zero":false,"reverse":true},"axis":null},"y2":{"field":"y2"}}},
     {"data":{"name":"arrows"},"transform":[{"filter":"datum.p=='E'"}],"mark":{"type":"rule","color":"black","strokeWidth":2},
      "encoding":{"x":{"field":"x","type":"quantitative","scale":{"domain":[0,4],"nice":false,"zero":false},"axis":null},"x2":{"field":"x2"},"y":{"field":"y","type":"quantitative","scale":{"domain":[0,4],"nice":false,"zero":false,"reverse":true},"axis":null},"y2":{"field":"y2"}}},
     {"data":{"name":"arrows"},"transform":[{"filter":"datum.p=='E'"},{"calculate":"atan2((datum.x2-datum.x)*58,(datum.y-datum.y2)*87)*180/PI","as":"ang"}],"mark":{"type":"point","shape":"triangle","filled":true,"size":60,"color":"black","opacity":1},
      "encoding":{"x":{"field":"x2","type":"quantitative","scale":{"domain":[0,4],"nice":false,"zero":false},"axis":null},"y":{"field":"y2","type":"quantitative","scale":{"domain":[0,4],"nice":false,"zero":false,"reverse":true},"axis":null},"angle":{"field":"ang","type":"quantitative","scale":null}}},
     {"data":{"values":[{}]},"mark":{"type":"text","fontSize":24,"font":"Lato","color":"#222"},
      "encoding":{"x":{"datum":-1.35,"type":"quantitative","scale":{"domain":[0,4],"nice":false,"zero":false},"axis":null},"y":{"datum":4.29,"type":"quantitative","scale":{"domain":[0,4],"nice":false,"zero":false,"reverse":true},"axis":null},"text":{"value":"E"}}}
    ]},
  {"width":232,"height":348,"view":{"stroke":null},
   "layer":[
    {"data":{"name":"legend"},"mark":{"type":"rect","stroke":"#555","strokeWidth":0.8},
     "encoding":{
      "x":{"datum":1.966,"type":"quantitative","scale":{"domain":[0,4],"nice":false,"zero":false},"axis":null},
      "x2":{"datum":2.241},
      "y":{"field":"lo","type":"quantitative","scale":{"domain":[3.103,27.103],"nice":false,"zero":false},"axis":null},
      "y2":{"field":"hi"},
      "color":{"field":"lo","type":"quantitative","legend":null,"scale":{"type":"linear","domain":[0,1,2,3,4,5,6,8,10,11,12,14,17,20,23],"range":["#d6426c","#da5479","#de6986","#e27d96","#e58ea4","#e79db0","#e9abbb","#eac4ce","#e8dbe0","#e4e3e6","#e0e1e7","#cdd2e8","#aab5e6","#8899e2","#6a80dc"],"interpolate":"rgb"}}
     }},
    {"data":{"values":[{}]},"mark":{"type":"text","fontSize":13,"fontWeight":"bold","font":"Lato","color":"#444","lineHeight":19,"baseline":"middle"},
     "encoding":{"x":{"datum":2.1,"type":"quantitative"},"y":{"datum":26.38,"type":"quantitative"},"text":{"value":["High","possibility"]}}},
    {"data":{"values":[{}]},"mark":{"type":"text","fontSize":13,"fontWeight":"bold","font":"Lato","color":"#444","lineHeight":19,"baseline":"middle"},
     "encoding":{"x":{"datum":2.1,"type":"quantitative"},"y":{"datum":-1.69,"type":"quantitative"},"text":{"value":["Low","possibility"]}}}
   ]},
   {"width":232,"height":348,"view":{"stroke":null},"resolve":{"scale":{"x":"independent","y":"independent"}},
    "layer":[
     {"data":{"name":"grid"},"transform":[{"filter":"datum.p=='C'"},{"fold":["c00","c01","c02","c03","c04","c05","c06","c07","c08","c09","c10","c11"],"as":["col","v"]}],"mark":{"type":"rect","strokeWidth":0.7},
      "encoding":{"x":{"field":"col","type":"nominal","axis":null,"scale":{"paddingInner":0,"paddingOuter":0}},"y":{"field":"r","type":"ordinal","axis":null,"scale":{"paddingInner":0,"paddingOuter":0}},
       "color":{"field":"v","type":"quantitative","legend":null,"scale":{"type":"linear","domain":[0,1,2,3,4,5,6,8,10,11,12,14,17,20,23],"range":["#d6426c","#da5479","#de6986","#e27d96","#e58ea4","#e79db0","#e9abbb","#eac4ce","#e8dbe0","#e4e3e6","#e0e1e7","#cdd2e8","#aab5e6","#8899e2","#6a80dc"],"interpolate":"rgb"}},
       "stroke":{"field":"v","type":"quantitative","legend":null,"scale":{"type":"linear","domain":[0,1,2,3,4,5,6,8,10,11,12,14,17,20,23],"range":["#d6426c","#da5479","#de6986","#e27d96","#e58ea4","#e79db0","#e9abbb","#eac4ce","#e8dbe0","#e4e3e6","#e0e1e7","#cdd2e8","#aab5e6","#8899e2","#6a80dc"],"interpolate":"rgb"}}}},
     {"data":{"name":"pts"},"mark":{"type":"point","shape":"triangle-up","filled":true,"size":12,"color":"#3b0b1b","opacity":1,"clip":true},
      "encoding":{"x":{"field":"gx","type":"quantitative","scale":{"domain":[0,4],"nice":false,"zero":false},"axis":{"orient":"top","values":[0.5,1.52,2.52,3.55],"labelExpr":"datum.value < 1 ? 'Low' : datum.value < 2 ? 'Mod' : datum.value < 3 ? 'High' : 'Very'","title":"2009","labelPadding":6,"titlePadding":25,"labelAngle":0}},
       "y":{"field":"gy","type":"quantitative","scale":{"domain":[0,4],"nice":false,"zero":false,"reverse":true},"axis":{"orient":"left","values":[0.36,1.4,2.46,3.49],"labelExpr":"datum.value < 1 ? 'Low' : datum.value < 2 ? 'Mod' : datum.value < 3 ? 'High' : 'Very'","title":"2012","titleAngle":0,"titleAlign":"right","titleBaseline":"middle","labelPadding":14,"titlePadding":18}}}},
     {"data":{"name":"boxes"},"transform":[{"filter":"datum.p=='C'"}],"mark":{"type":"rect","fillOpacity":0,"stroke":"black","strokeWidth":2.5},
      "encoding":{"x":{"field":"x","type":"quantitative","scale":{"domain":[0,4],"nice":false,"zero":false},"axis":null},"x2":{"field":"x2"},"y":{"field":"y","type":"quantitative","scale":{"domain":[0,4],"nice":false,"zero":false,"reverse":true},"axis":null},"y2":{"field":"y2"}}},
     {"data":{"name":"arrows"},"transform":[{"filter":"datum.p=='C'"}],"mark":{"type":"rule","color":"black","strokeWidth":2},
      "encoding":{"x":{"field":"x","type":"quantitative","scale":{"domain":[0,4],"nice":false,"zero":false},"axis":null},"x2":{"field":"x2"},"y":{"field":"y","type":"quantitative","scale":{"domain":[0,4],"nice":false,"zero":false,"reverse":true},"axis":null},"y2":{"field":"y2"}}},
     {"data":{"name":"arrows"},"transform":[{"filter":"datum.p=='C'"},{"calculate":"atan2((datum.x2-datum.x)*58,(datum.y-datum.y2)*87)*180/PI","as":"ang"}],"mark":{"type":"point","shape":"triangle","filled":true,"size":60,"color":"black","opacity":1},
      "encoding":{"x":{"field":"x2","type":"quantitative","scale":{"domain":[0,4],"nice":false,"zero":false},"axis":null},"y":{"field":"y2","type":"quantitative","scale":{"domain":[0,4],"nice":false,"zero":false,"reverse":true},"axis":null},"angle":{"field":"ang","type":"quantitative","scale":null}}},
     {"data":{"values":[{}]},"mark":{"type":"text","fontSize":24,"font":"Lato","color":"#222"},
      "encoding":{"x":{"datum":-1.35,"type":"quantitative","scale":{"domain":[0,4],"nice":false,"zero":false},"axis":null},"y":{"datum":4.29,"type":"quantitative","scale":{"domain":[0,4],"nice":false,"zero":false,"reverse":true},"axis":null},"text":{"value":"C"}}}
    ]},
   {"width":232,"height":348,"view":{"stroke":null},"resolve":{"scale":{"x":"independent","y":"independent"}},
    "layer":[
     {"data":{"name":"grid"},"transform":[{"filter":"datum.p=='F'"},{"fold":["c00","c01","c02","c03","c04","c05","c06","c07","c08","c09","c10","c11"],"as":["col","v"]}],"mark":{"type":"rect","strokeWidth":0.7},
      "encoding":{"x":{"field":"col","type":"nominal","axis":null,"scale":{"paddingInner":0,"paddingOuter":0}},"y":{"field":"r","type":"ordinal","axis":null,"scale":{"paddingInner":0,"paddingOuter":0}},
       "color":{"field":"v","type":"quantitative","legend":null,"scale":{"type":"linear","domain":[0,1,2,3,4,5,6,8,10,11,12,14,17,20,23],"range":["#d6426c","#da5479","#de6986","#e27d96","#e58ea4","#e79db0","#e9abbb","#eac4ce","#e8dbe0","#e4e3e6","#e0e1e7","#cdd2e8","#aab5e6","#8899e2","#6a80dc"],"interpolate":"rgb"}},
       "stroke":{"field":"v","type":"quantitative","legend":null,"scale":{"type":"linear","domain":[0,1,2,3,4,5,6,8,10,11,12,14,17,20,23],"range":["#d6426c","#da5479","#de6986","#e27d96","#e58ea4","#e79db0","#e9abbb","#eac4ce","#e8dbe0","#e4e3e6","#e0e1e7","#cdd2e8","#aab5e6","#8899e2","#6a80dc"],"interpolate":"rgb"}}}},
     {"data":{"name":"pts"},"mark":{"type":"point","shape":"triangle-up","filled":true,"size":12,"color":"#3b0b1b","opacity":1,"clip":true},
      "encoding":{"x":{"field":"gx","type":"quantitative","scale":{"domain":[0,4],"nice":false,"zero":false},"axis":{"orient":"top","values":[0.5,1.52,2.52,3.55],"labelExpr":"datum.value < 1 ? 'Low' : datum.value < 2 ? 'Mod' : datum.value < 3 ? 'High' : 'Very'","title":"2009","labelPadding":6,"titlePadding":25,"labelAngle":0}},
       "y":{"field":"gy","type":"quantitative","scale":{"domain":[0,4],"nice":false,"zero":false,"reverse":true},"axis":{"orient":"left","values":[0.36,1.4,2.46,3.49],"labelExpr":"datum.value < 1 ? 'Low' : datum.value < 2 ? 'Mod' : datum.value < 3 ? 'High' : 'Very'","title":"2015","titleAngle":0,"titleAlign":"right","titleBaseline":"middle","labelPadding":14,"titlePadding":18}}}},
     {"data":{"name":"boxes"},"transform":[{"filter":"datum.p=='F'"}],"mark":{"type":"rect","fillOpacity":0,"stroke":"black","strokeWidth":2.5},
      "encoding":{"x":{"field":"x","type":"quantitative","scale":{"domain":[0,4],"nice":false,"zero":false},"axis":null},"x2":{"field":"x2"},"y":{"field":"y","type":"quantitative","scale":{"domain":[0,4],"nice":false,"zero":false,"reverse":true},"axis":null},"y2":{"field":"y2"}}},
     {"data":{"name":"arrows"},"transform":[{"filter":"datum.p=='F'"}],"mark":{"type":"rule","color":"black","strokeWidth":2},
      "encoding":{"x":{"field":"x","type":"quantitative","scale":{"domain":[0,4],"nice":false,"zero":false},"axis":null},"x2":{"field":"x2"},"y":{"field":"y","type":"quantitative","scale":{"domain":[0,4],"nice":false,"zero":false,"reverse":true},"axis":null},"y2":{"field":"y2"}}},
     {"data":{"name":"arrows"},"transform":[{"filter":"datum.p=='F'"},{"calculate":"atan2((datum.x2-datum.x)*58,(datum.y-datum.y2)*87)*180/PI","as":"ang"}],"mark":{"type":"point","shape":"triangle","filled":true,"size":60,"color":"black","opacity":1},
      "encoding":{"x":{"field":"x2","type":"quantitative","scale":{"domain":[0,4],"nice":false,"zero":false},"axis":null},"y":{"field":"y2","type":"quantitative","scale":{"domain":[0,4],"nice":false,"zero":false,"reverse":true},"axis":null},"angle":{"field":"ang","type":"quantitative","scale":null}}},
     {"data":{"values":[{}]},"mark":{"type":"text","fontSize":24,"font":"Lato","color":"#222"},
      "encoding":{"x":{"datum":-1.35,"type":"quantitative","scale":{"domain":[0,4],"nice":false,"zero":false},"axis":null},"y":{"datum":4.29,"type":"quantitative","scale":{"domain":[0,4],"nice":false,"zero":false,"reverse":true},"axis":null},"text":{"value":"F"}}}
    ]}
]
}
